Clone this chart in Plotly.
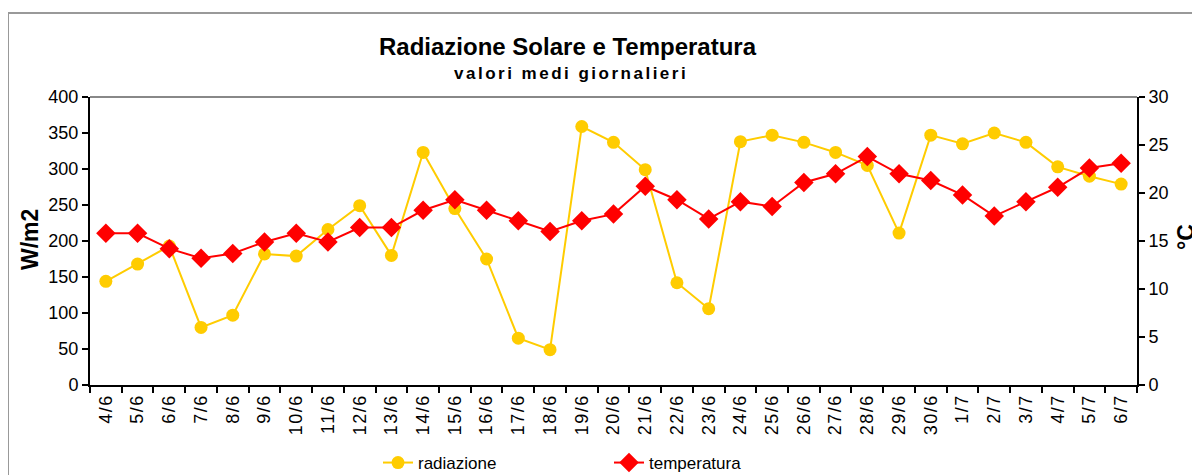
import plotly.graph_objects as go

giorni = ["4/6", "5/6", "6/6", "7/6", "8/6", "9/6", "10/6", "11/6", "12/6", "13/6",
          "14/6", "15/6", "16/6", "17/6", "18/6", "19/6", "20/6", "21/6", "22/6", "23/6",
          "24/6", "25/6", "26/6", "27/6", "28/6", "29/6", "30/6", "1/7", "2/7", "3/7",
          "4/7", "5/7", "6/7"]
radiazione = [144, 168, 193, 80, 97, 182, 179, 216, 249, 180,
              323, 245, 175, 65, 49, 359, 337, 299, 142, 106,
              338, 347, 337, 323, 305, 211, 347, 335, 350, 337,
              303, 290, 279]
temperatura = [15.8, 15.8, 14.2, 13.2, 13.7, 14.9, 15.8, 14.9, 16.4, 16.4,
               18.2, 19.3, 18.2, 17.1, 16.0, 17.1, 17.8, 20.7, 19.3, 17.3,
               19.1, 18.6, 21.1, 22.0, 23.8, 22.0, 21.3, 19.8, 17.6, 19.1,
               20.6, 22.6, 23.1]
y1_ticks = [0, 50, 100, 150, 200, 250, 300, 350, 400]
y2_ticks = [0, 5, 10, 15, 20, 25, 30]

FONT = "Liberation Sans, Arial, sans-serif"
OFF = 8  # page body margin
W, H = 1200 - OFF, 475 - OFF
# plot area in screen pixels: x 90..1137, y 97..385
L, R, T, B = 90 - OFF, W - (1137 - OFF), 97 - OFF, H - (385 - OFF)
pw, ph = W - L - R, H - T - B


def px(x):
    return (x - OFF - L) / pw


def py(y):
    return (H - B - (y - OFF)) / ph


def spaced(s, sp):
    return f'<span style="letter-spacing:{sp}px">{s}</span>'


fig = go.Figure()
fig.add_trace(go.Scatter(
    x=giorni, y=radiazione, name="radiazione", mode="lines+markers",
    line=dict(color="#FFCC00", width=2),
    marker=dict(symbol="circle", size=13, color="#FFCC00"),
    yaxis="y"))
fig.add_trace(go.Scatter(
    x=giorni, y=temperatura, name="temperatura", mode="lines+markers",
    line=dict(color="#FF0000", width=2),
    marker=dict(symbol="diamond", size=15, color="#FF0000"),
    yaxis="y2"))

axis_common = dict(showgrid=False, zeroline=False, showline=True, linecolor="black",
                   linewidth=2, ticks="outside", ticklen=6, tickwidth=2, tickcolor="black",
                   automargin=False,
                   tickfont=dict(family=FONT, size=18, color="black"))

fig.update_layout(
    width=W, height=H,
    margin=dict(l=L, r=R, t=T, b=B, autoexpand=False),
    paper_bgcolor="white", plot_bgcolor="white",
    showlegend=True,
    legend=dict(orientation="h", x=px(378), xanchor="left", y=py(463), yanchor="middle",
                font=dict(family=FONT, size=17, color="black"), entrywidth=186,
                bgcolor="rgba(0,0,0,0)"),
    xaxis=dict(type="category", tickson="boundaries", tickangle=-90,
               tickvals=giorni, ticktext=[spaced(g, 1.5) for g in giorni],
               range=[-0.5, len(giorni) - 0.5], **axis_common),
    yaxis=dict(range=[0, 400], tickvals=y1_ticks, **axis_common),
    yaxis2=dict(range=[0, 30], tickvals=y2_ticks, overlaying="y", side="right", **axis_common),
    annotations=[
        dict(text="<b>Radiazione Solare e Temperatura</b>", xref="paper", yref="paper",
             x=px(568), y=py(46), showarrow=False, xanchor="center", yanchor="middle",
             font=dict(family=FONT, size=24, color="black")),
        dict(text="<b>" + spaced("valori medi giornalieri", 2.5) + "</b>", xref="paper", yref="paper",
             x=px(571), y=py(74), showarrow=False, xanchor="center", yanchor="middle",
             font=dict(family=FONT, size=17, color="black")),
        dict(text="<b>W/m2</b>", xref="paper", yref="paper", textangle=-90,
             x=px(30), y=py(239), showarrow=False, xanchor="center", yanchor="middle",
             font=dict(family=FONT, size=23, color="black")),
        dict(text="<b>°C</b>", xref="paper", yref="paper", textangle=-90,
             x=px(1186), y=py(237), showarrow=False, xanchor="center", yanchor="middle",
             font=dict(family=FONT, size=23, color="black")),
    ],
    shapes=[
        dict(type="line", xref="paper", yref="paper", x0=0, x1=1, y0=1, y1=1,
             line=dict(color="#888888", width=2), layer="below"),
        dict(type="rect", xref="paper", yref="paper",
             x0=px(8), x1=px(1210), y0=py(485), y1=py(13),
             line=dict(color="#999999", width=2), layer="below"),
    ],
)

fig.write_html("out.html")
